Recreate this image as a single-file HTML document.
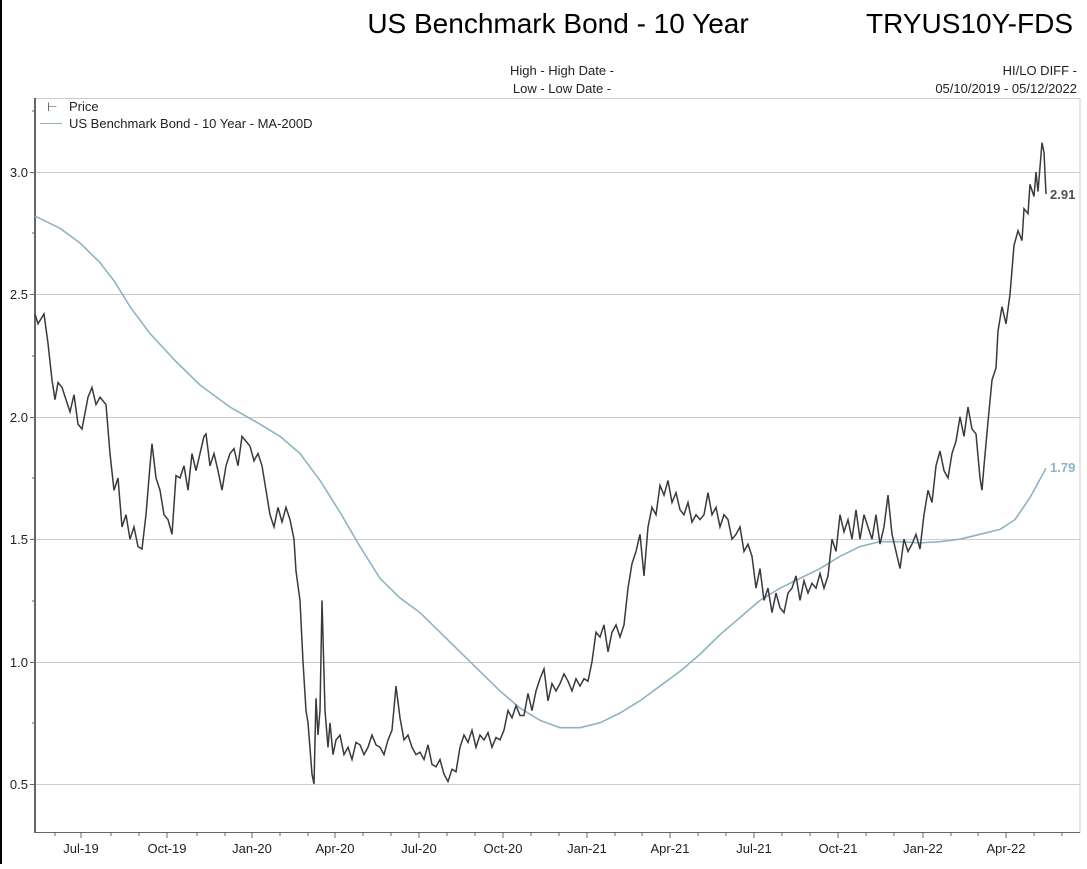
<!DOCTYPE html>
<html><head><meta charset="utf-8"><style>
body{margin:0;background:#fff;width:1087px;height:864px;overflow:hidden;font-family:"Liberation Sans",Arial,sans-serif}
</style></head><body>
<svg width="1087" height="864" xmlns="http://www.w3.org/2000/svg" font-family="Liberation Sans, Arial, sans-serif">
<rect x="0" y="0" width="2" height="864" fill="#000"/>
<text x="558" y="33" font-size="28" text-anchor="middle" fill="#000">US Benchmark Bond - 10 Year</text>
<text x="1073" y="33" font-size="28" text-anchor="end" fill="#000">TRYUS10Y-FDS</text>
<text x="562" y="75" font-size="13" text-anchor="middle" fill="#222">High - High Date -</text>
<text x="562" y="93" font-size="13" text-anchor="middle" fill="#222">Low - Low Date -</text>
<text x="1077" y="75" font-size="13" text-anchor="end" fill="#222">HI/LO DIFF -</text>
<text x="1077" y="93" font-size="13" text-anchor="end" fill="#222">05/10/2019 - 05/12/2022</text>
<rect x="35" y="98.5" width="1045" height="734" fill="none" stroke="#ccc"/>
<g stroke="#ccc" stroke-width="1">
<line x1="35" x2="1080" y1="172.5" y2="172.5"/><line x1="35" x2="1080" y1="294.5" y2="294.5"/>
<line x1="35" x2="1080" y1="417.5" y2="417.5"/><line x1="35" x2="1080" y1="539.5" y2="539.5"/>
<line x1="35" x2="1080" y1="662.5" y2="662.5"/><line x1="35" x2="1080" y1="784.5" y2="784.5"/>
</g>
<line x1="35" x2="35" y1="98" y2="833" stroke="#666" stroke-width="2"/>
<line x1="35" x2="1080" y1="832.5" y2="832.5" stroke="#666" stroke-width="1"/>
<g stroke="#666">
<line x1="30" x2="35" y1="172.5" y2="172.5"/><line x1="30" x2="35" y1="294.5" y2="294.5"/><line x1="30" x2="35" y1="417.5" y2="417.5"/><line x1="30" x2="35" y1="539.5" y2="539.5"/><line x1="30" x2="35" y1="662.5" y2="662.5"/><line x1="30" x2="35" y1="784.5" y2="784.5"/>
<line x1="32" x2="35" y1="111" y2="111"/><line x1="32" x2="35" y1="233" y2="233"/><line x1="32" x2="35" y1="356" y2="356"/><line x1="32" x2="35" y1="478" y2="478"/><line x1="32" x2="35" y1="601" y2="601"/><line x1="32" x2="35" y1="723" y2="723"/>
</g>
<g font-size="13" fill="#222" text-anchor="end">
<text x="28" y="177">3.0</text><text x="28" y="299">2.5</text><text x="28" y="422">2.0</text><text x="28" y="544">1.5</text><text x="28" y="667">1.0</text><text x="28" y="789">0.5</text>
</g>
<g stroke="#666">
<line x1="81" x2="81" y1="832" y2="838"/><line x1="167" x2="167" y1="832" y2="838"/><line x1="252" x2="252" y1="832" y2="838"/><line x1="335" x2="335" y1="832" y2="838"/><line x1="419" x2="419" y1="832" y2="838"/><line x1="503" x2="503" y1="832" y2="838"/><line x1="587" x2="587" y1="832" y2="838"/><line x1="670" x2="670" y1="832" y2="838"/><line x1="754" x2="754" y1="832" y2="838"/><line x1="838" x2="838" y1="832" y2="838"/><line x1="923" x2="923" y1="832" y2="838"/><line x1="1006" x2="1006" y1="832" y2="838"/>
<line x1="55" x2="55" y1="832" y2="836"/><line x1="111" x2="111" y1="832" y2="836"/><line x1="139" x2="139" y1="832" y2="836"/><line x1="197" x2="197" y1="832" y2="836"/><line x1="225" x2="225" y1="832" y2="836"/><line x1="280" x2="280" y1="832" y2="836"/><line x1="308" x2="308" y1="832" y2="836"/><line x1="363" x2="363" y1="832" y2="836"/><line x1="391" x2="391" y1="832" y2="836"/><line x1="447" x2="447" y1="832" y2="836"/><line x1="475" x2="475" y1="832" y2="836"/><line x1="531" x2="531" y1="832" y2="836"/><line x1="559" x2="559" y1="832" y2="836"/><line x1="615" x2="615" y1="832" y2="836"/><line x1="642" x2="642" y1="832" y2="836"/><line x1="698" x2="698" y1="832" y2="836"/><line x1="726" x2="726" y1="832" y2="836"/><line x1="782" x2="782" y1="832" y2="836"/><line x1="810" x2="810" y1="832" y2="836"/><line x1="866" x2="866" y1="832" y2="836"/><line x1="894" x2="894" y1="832" y2="836"/><line x1="951" x2="951" y1="832" y2="836"/><line x1="978" x2="978" y1="832" y2="836"/><line x1="1034" x2="1034" y1="832" y2="836"/><line x1="1062" x2="1062" y1="832" y2="836"/>
</g>
<g font-size="13" fill="#222" text-anchor="middle">
<text x="81" y="853">Jul-19</text><text x="167" y="853">Oct-19</text><text x="252" y="853">Jan-20</text><text x="335" y="853">Apr-20</text><text x="419" y="853">Jul-20</text><text x="503" y="853">Oct-20</text><text x="587" y="853">Jan-21</text><text x="670" y="853">Apr-21</text><text x="754" y="853">Jul-21</text><text x="838" y="853">Oct-21</text><text x="923" y="853">Jan-22</text><text x="1006" y="853">Apr-22</text>
</g>
<text x="47" y="111" font-size="12" fill="#444">⊢</text>
<text x="69" y="111" font-size="13" fill="#222">Price</text>
<line x1="40" x2="62" y1="123.5" y2="123.5" stroke="#8fb3c4"/>
<text x="69" y="128" font-size="13" fill="#222">US Benchmark Bond - 10 Year - MA-200D</text>
<g transform="matrix(1 0 0 -244.8 0 906.4)" fill="none">
<polyline vector-effect="non-scaling-stroke" stroke="#8fb3c4" stroke-width="1.6" stroke-linejoin="round" points="35,2.82 60,2.77 80,2.71 100,2.63 115,2.55 130,2.45 150,2.34 175,2.23 200,2.13 230,2.04 260,1.97 280,1.92 300,1.85 320,1.74 340,1.61 360,1.47 380,1.34 400,1.26 420,1.2 440,1.12 460,1.04 480,0.96 500,0.88 520,0.81 540,0.76 560,0.73 580,0.73 600,0.75 620,0.79 640,0.84 660,0.9 680,0.96 700,1.03 720,1.11 740,1.18 760,1.25 780,1.3 800,1.34 820,1.38 840,1.43 860,1.47 880,1.49 900,1.49 920,1.485 940,1.49 960,1.5 980,1.52 1000,1.54 1015,1.58 1030,1.67 1046,1.79"/>
<polyline vector-effect="non-scaling-stroke" stroke="#3a3a3e" stroke-width="1.5" points="35,2.42 38,2.38 44,2.42 48,2.3 52,2.15 55,2.07 58,2.14 62,2.12 66,2.07 70,2.02 74,2.09 78,1.97 82,1.95 88,2.08 92,2.12 96,2.05 100,2.08 106,2.05 110,1.85 114,1.7 118,1.75 122,1.55 126,1.6 130,1.5 134,1.55 138,1.47 142,1.46 146,1.6 150,1.8 152,1.89 156,1.75 160,1.7 164,1.6 168,1.58 172,1.52 176,1.76 180,1.75 184,1.8 188,1.7 192,1.85 196,1.78 200,1.85 204,1.92 206,1.93 210,1.8 214,1.85 218,1.78 222,1.7 226,1.8 230,1.85 234,1.87 238,1.8 242,1.92 246,1.9 250,1.88 254,1.82 258,1.85 262,1.8 266,1.7 270,1.6 274,1.55 278,1.63 282,1.57 286,1.63 290,1.58 294,1.5 296,1.37 300,1.25 303,1.0 306,0.8 308,0.75 312,0.54 314,0.5 316,0.85 318,0.7 320,0.8 322,1.25 325,0.8 328,0.65 330,0.75 333,0.62 336,0.68 340,0.7 344,0.62 348,0.65 352,0.6 356,0.67 360,0.66 364,0.62 368,0.65 372,0.7 376,0.66 380,0.65 384,0.62 388,0.68 392,0.72 396,0.9 400,0.77 404,0.68 408,0.7 412,0.65 416,0.62 420,0.63 424,0.6 428,0.66 432,0.58 436,0.57 440,0.6 444,0.54 448,0.51 452,0.56 456,0.55 460,0.65 464,0.7 468,0.67 472,0.72 476,0.65 480,0.7 484,0.68 488,0.71 492,0.65 496,0.69 500,0.68 504,0.72 508,0.8 512,0.77 516,0.82 520,0.78 524,0.78 528,0.87 532,0.8 536,0.88 540,0.93 544,0.97 548,0.84 552,0.91 556,0.88 560,0.91 564,0.95 568,0.92 572,0.88 576,0.93 580,0.9 584,0.93 588,0.92 592,1.0 596,1.12 600,1.1 604,1.15 608,1.04 612,1.12 616,1.15 620,1.1 624,1.15 628,1.3 632,1.4 636,1.45 640,1.52 644,1.35 648,1.55 652,1.63 656,1.6 660,1.72 664,1.68 668,1.74 672,1.65 676,1.69 680,1.62 684,1.6 688,1.65 692,1.57 696,1.6 700,1.58 704,1.6 708,1.69 712,1.6 716,1.63 720,1.55 724,1.6 728,1.58 732,1.5 736,1.52 740,1.55 744,1.45 748,1.48 752,1.43 756,1.3 760,1.38 764,1.25 768,1.3 772,1.2 776,1.28 780,1.22 784,1.2 788,1.28 792,1.3 796,1.35 800,1.25 804,1.33 808,1.28 812,1.32 816,1.3 820,1.36 824,1.3 828,1.35 832,1.5 836,1.45 840,1.6 844,1.53 848,1.58 852,1.5 856,1.62 860,1.5 864,1.6 868,1.55 872,1.5 876,1.6 880,1.48 884,1.55 888,1.68 892,1.52 896,1.45 900,1.38 904,1.5 908,1.45 912,1.48 916,1.52 920,1.46 924,1.6 928,1.7 932,1.65 936,1.8 940,1.86 944,1.78 948,1.75 952,1.85 956,1.9 960,2.0 964,1.92 968,2.04 972,1.95 976,1.93 980,1.75 982,1.7 984,1.8 988,1.98 992,2.15 996,2.2 998,2.35 1002,2.45 1006,2.38 1010,2.5 1014,2.7 1018,2.76 1022,2.72 1024,2.85 1028,2.83 1030,2.95 1034,2.9 1036,3.0 1038,2.92 1042,3.12 1044,3.08 1046,2.91"/>
</g>
<text x="1050" y="199" font-size="13" font-weight="bold" fill="#4a5058">2.91</text>
<text x="1050" y="472" font-size="13" font-weight="bold" fill="#8fb3c4">1.79</text>
</svg>
</body></html>
